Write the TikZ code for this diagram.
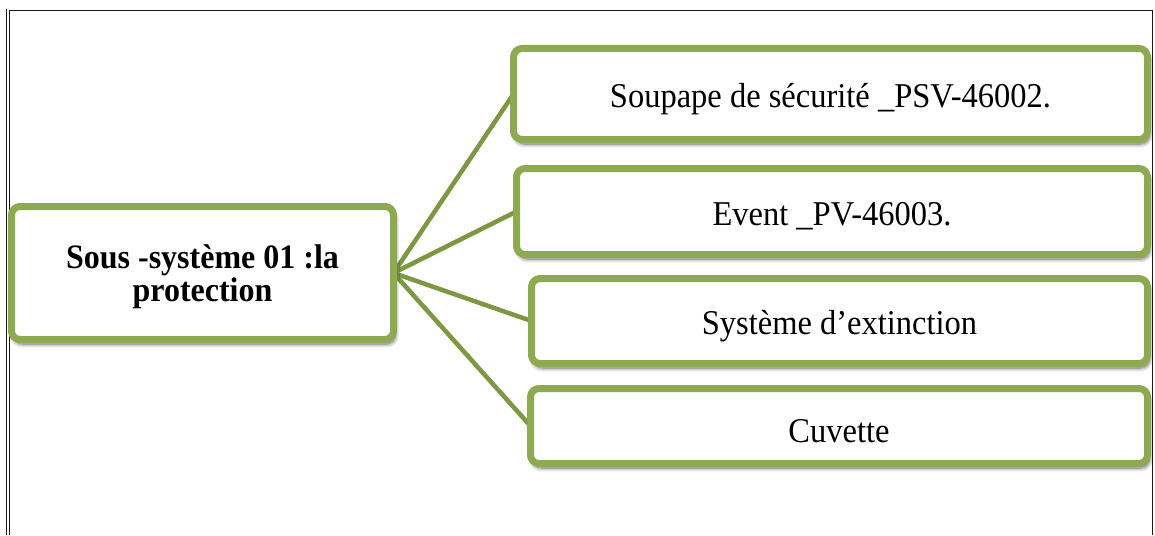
\documentclass[tikz,border=0pt]{standalone}
\usepackage{graphicx}
\usepackage{fontspec}
\setmainfont{Liberation Serif}
\usetikzlibrary{shadows.blur}
\pgfdeclarelayer{background}
\pgfsetlayers{background,main}
\definecolor{boxgreen}{RGB}{142,170,80}
\definecolor{linkgreen}{RGB}{124,152,66}
\definecolor{framegray}{RGB}{25,25,25}
% lower a label inside its box, keeping the box size that centres it
\newcommand{\lowered}[1]{\raisebox{-5pt}[\height][\depth]{\scalebox{1}[1.07]{#1}}}

\begin{document}
\begin{tikzpicture}[x=1pt,y=-1pt,
  itembox/.style={draw=boxgreen, line width=7pt, fill=white, rounded corners=8.5pt,
    inner sep=0pt, outer sep=0pt, align=center,
    font=\fontsize{32.5}{33}\selectfont,
    blur shadow={shadow xshift=2pt, shadow yshift=-4.5pt, shadow blur radius=4pt,
      shadow opacity=60, shadow blur steps=8}},
  link/.style={draw=linkgreen, line width=4.5pt}]
\useasboundingbox (0,0) rectangle (1155,535);

% page frame
\draw[framegray, line width=1.1pt] (6.5,9) -- (6.5,535);
\draw[framegray, line width=1.1pt] (9.5,10.5) -- (9.5,535);
\draw[framegray, line width=1.5pt] (9,10.5) -- (1152.5,10.5);
\draw[framegray, line width=1.5pt] (1152.5,10) -- (1152.5,535);

% root and branches
\node[itembox, minimum width=382pt, minimum height=133pt, font=\fontsize{32}{32}\selectfont\bfseries]
  (c) at (202.5,273) {\lowered{\begin{tabular}{@{}c@{}}Sous -système 01 :la\\[-1pt]protection\end{tabular}}};
\node[itembox, minimum width=634pt, minimum height=91pt] (b1) at (830.5,94) {\lowered{Soupape de sécurité \_PSV-46002.}};
\node[itembox, minimum width=631pt, minimum height=86pt] (b2) at (832,211.5) {\lowered{Event \_PV-46003.}};
\node[itembox, minimum width=616pt, minimum height=85pt] (b3) at (839.5,321) {\lowered{Système d’extinction}};
\node[itembox, minimum width=617pt, minimum height=75pt] (b4) at (839,426) {\lowered{Cuvette}};

\begin{pgfonlayer}{background}
  \draw[link] (c.east) -- (b1.west);
  \draw[link] (c.east) -- (b2.west);
  \draw[link] (c.east) -- (b3.west);
  \draw[link] (c.east) -- (b4.west);
\end{pgfonlayer}
\end{tikzpicture}
\end{document}
